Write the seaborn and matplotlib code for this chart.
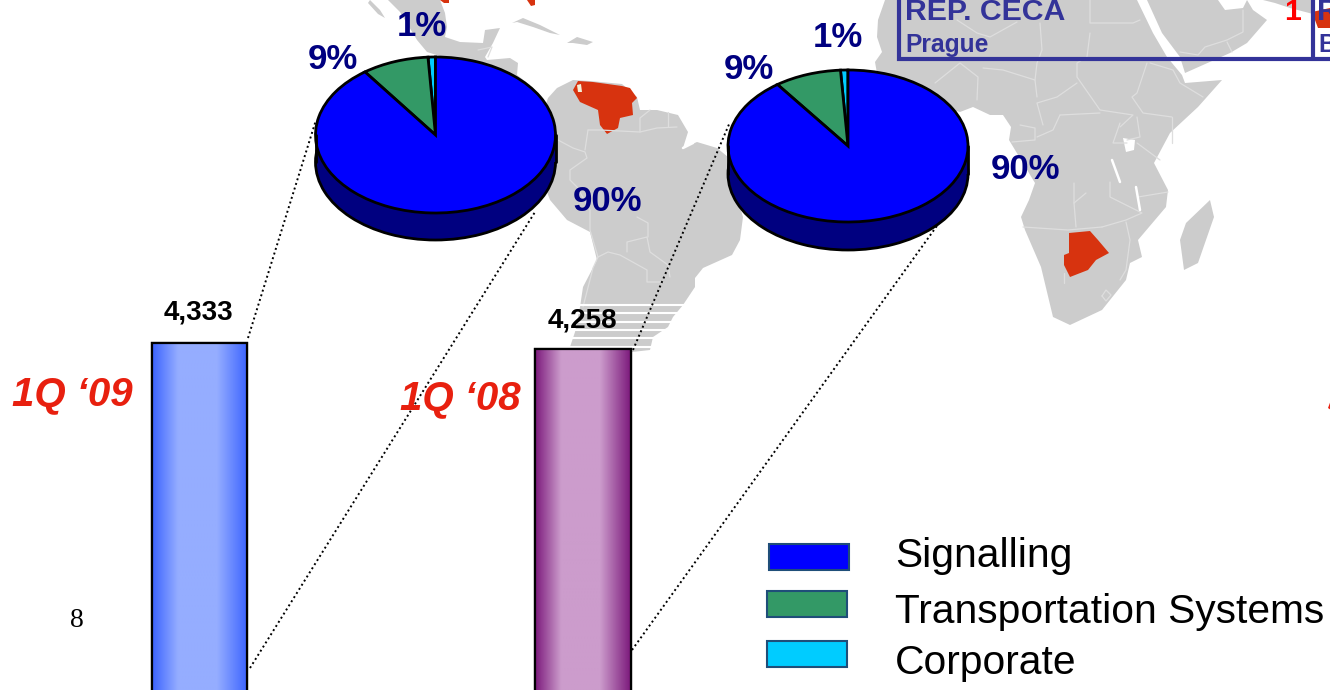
import numpy as np
import pandas as pd
import seaborn as sns
import matplotlib
matplotlib.use("Agg")
import matplotlib.pyplot as plt
from matplotlib.colors import LinearSegmentedColormap
from matplotlib.patches import Polygon, Rectangle

# Order book by quarter and its split by business line
quarters = ["1Q \u201809", "1Q \u201808"]
order_totals = [4333, 4258]
segments = ["Corporate", "Transportation Systems", "Signalling"]
share_1q09 = [1, 9, 90]
share_1q08 = [1, 9, 90]
legend_order = ["Signalling", "Transportation Systems", "Corporate"]

segment_colors = {"Signalling": "#0000FF", "Transportation Systems": "#339966", "Corporate": "#00CCFF"}
bar_gradients = [("#3C64FF", "#95ADFF"), ("#7C1A7C", "#CC9CCC")]

LAND = "#CCCCCC"
BORDER = "#DEDEDE"
MARKET = "#D7330F"
NAVY = "#000080"
FRAME = "#333399"
RED = "#E8200F"

# Backdrop map outlines, in canvas pixels
central_america = [(388, 0), (400, 12), (417, 40), (427, 52), (443, 57), (460, 60), (480, 100), (530, 85),
                   (517, 75), (518, 63), (510, 58), (487, 60), (485, 57), (493, 43), (500, 28), (485, 30),
                   (483, 43), (460, 42), (445, 37), (447, 27), (445, 13), (440, 0)]
baja = [(370, 0), (380, 10), (385, 18), (378, 14), (368, 3)]
south_america = [(548, 98), (557, 88), (573, 80), (590, 81), (622, 84), (637, 97), (640, 110), (657, 110),
                 (678, 115), (688, 132), (683, 148), (697, 142), (717, 148), (728, 157), (732, 180),
                 (743, 217), (740, 240), (732, 255), (703, 268), (695, 278), (695, 287), (683, 305),
                 (673, 317), (668, 327), (653, 337), (650, 350), (632, 352), (570, 347), (575, 332),
                 (580, 307), (583, 287), (597, 260), (590, 232), (567, 220), (550, 200), (547, 192),
                 (530, 150)]
africa = [(885, 0), (878, 20), (877, 37), (882, 52), (875, 62), (880, 90), (960, 112), (973, 107),
          (990, 115), (1003, 115), (1011, 127), (1009, 140), (1035, 183), (1029, 200), (1021, 217),
          (1025, 230), (1041, 267), (1053, 317), (1070, 325), (1102, 310), (1126, 280), (1130, 263),
          (1142, 257), (1138, 240), (1166, 207), (1168, 190), (1154, 163), (1170, 133), (1198, 107),
          (1222, 80), (1185, 83), (1182, 75), (1167, 57), (1153, 33), (1137, 0)]
arabia = [(1147, 0), (1162, 33), (1180, 57), (1185, 73), (1230, 53), (1247, 43), (1267, 20), (1253, 10),
          (1247, 0), (1243, 8), (1225, 10), (1218, 0)]
gulf_shore = [(1263, 0), (1313, 0), (1313, 14), (1290, 8), (1275, 3)]
madagascar = [(1210, 200), (1214, 217), (1198, 263), (1184, 270), (1180, 240), (1186, 223)]
islands = [[(512, 23), (523, 18), (540, 25), (560, 35), (550, 33), (533, 27), (517, 22)],
           [(567, 43), (577, 37), (593, 42), (587, 45), (573, 43)]]
venezuela = [(573, 90), (578, 81), (593, 82), (622, 86), (630, 88), (637, 98), (632, 103), (633, 115),
             (620, 118), (618, 128), (607, 134), (600, 125), (598, 110), (580, 102)]
maracaibo = [(577, 85), (581, 84), (582, 92), (578, 92)]
botswana = [(1069, 233), (1090, 231), (1098, 240), (1109, 253), (1096, 260), (1088, 270), (1070, 277),
            (1064, 265), (1064, 255), (1069, 253)]
red_fragments = [[(440, 0), (449, 0), (449, 3), (444, 3)], [(527, 0), (535, 0), (535, 5), (531, 6)],
                 [(1312, 12), (1330, 8), (1330, 28), (1318, 28)]]
lake_victoria = [(1123, 138), (1135, 140), (1134, 150), (1126, 152)]
border_lines = [
    [(558, 140), (573, 148), (585, 152), (587, 158), (570, 170), (570, 180), (577, 187), (590, 210),
     (590, 230), (598, 257), (593, 268), (583, 307)],
    [(598, 257), (608, 252), (620, 255), (647, 270), (647, 282), (663, 282)],
    [(627, 252), (627, 242), (647, 237), (650, 252), (668, 265), (670, 277)],
    [(637, 217), (648, 223), (648, 237)],
    [(588, 130), (600, 130), (640, 132), (657, 128), (677, 127)],
    [(588, 130), (585, 150)], [(640, 132), (640, 118), (650, 110)], [(668, 112), (668, 127)],
    [(957, 20), (977, 33), (990, 37), (1017, 22)],
    [(1040, 23), (1042, 50), (1037, 63), (1035, 80)],
    [(1090, 0), (1090, 23), (1133, 23), (1140, 20)],
    [(1090, 33), (1087, 57), (1077, 63), (1077, 77), (1100, 110), (1133, 115), (1120, 127)],
    [(1077, 83), (1057, 97), (1037, 103), (1043, 125)],
    [(1147, 63), (1137, 93), (1132, 97), (1143, 113), (1172, 117)],
    [(1150, 63), (1173, 70), (1180, 83), (1203, 97)],
    [(983, 68), (1003, 70), (1035, 80), (1037, 97)],
    [(935, 83), (960, 63), (978, 77), (977, 100)],
    [(1060, 115), (1100, 113)], [(1060, 115), (1053, 130), (1037, 137)],
    [(1172, 117), (1172, 143)], [(1120, 123), (1113, 143), (1127, 143)],
    [(1137, 117), (1140, 137), (1127, 140)], [(1137, 143), (1160, 160)],
    [(1020, 125), (1035, 128), (1035, 140), (1012, 142)],
    [(1074, 183), (1074, 203), (1076, 227)], [(1086, 193), (1074, 203)],
    [(1023, 227), (1068, 230), (1102, 227)],
    [(1110, 182), (1110, 197), (1142, 213), (1126, 220), (1102, 227)],
    [(1126, 222), (1130, 240), (1126, 270), (1120, 280)],
    [(1168, 192), (1138, 197)], [(1064, 273), (1064, 283)],
    [(1102, 296), (1106, 290), (1111, 295), (1106, 301), (1102, 296)],
    [(1180, 52), (1198, 55), (1205, 47), (1227, 40), (1243, 32), (1243, 10)],
    [(1227, 42), (1232, 52)], [(478, 50), (492, 47), (488, 57)],
]
water_lines = [[(1112, 160), (1120, 182)], [(1136, 187), (1140, 210)], [(683, 148), (693, 143)]]
stripe_rows = [305, 313, 322, 330, 338, 347]

fig_w, fig_h = 1330, 690
sns.set_theme(style="white")
plt.rcParams["font.family"] = ["Liberation Sans", "DejaVu Sans"]

fig = plt.figure(figsize=(fig_w / 100, fig_h / 100), dpi=100)
fig.patch.set_facecolor("white")


def pixel_axes(zorder):
    ax = fig.add_axes([0, 0, 1, 1], zorder=zorder)
    ax.set_xlim(0, fig_w)
    ax.set_ylim(fig_h, 0)
    ax.axis("off")
    ax.patch.set_alpha(0)
    return ax


# Map layer
map_ax = pixel_axes(0)
for outline in [central_america, baja, south_america, africa, arabia, gulf_shore, madagascar, *islands]:
    map_ax.add_patch(Polygon(outline, closed=True, fc=LAND, ec="none"))
for line in border_lines:
    xs, ys = zip(*line)
    map_ax.plot(xs, ys, color=BORDER, lw=0.9)
for line in water_lines:
    xs, ys = zip(*line)
    map_ax.plot(xs, ys, color="white", lw=1.8)
map_ax.add_patch(Polygon(lake_victoria, closed=True, fc="white", ec="none"))
for row in stripe_rows:
    map_ax.plot([565, 695], [row, row], color="white", lw=1.5)
for outline in [venezuela, botswana, *red_fragments]:
    map_ax.add_patch(Polygon(outline, closed=True, fc=MARKET, ec="none"))
map_ax.add_patch(Polygon(maracaibo, closed=True, fc="#F4F0D8", ec="none"))

# Connector lines running from the bars up to their pies
link_ax = pixel_axes(1)
for (x0, y0), (x1, y1) in [((248, 338), (316, 120)), ((250, 668), (535, 212)),
                           ((633, 350), (730, 122)), ((632, 650), (939, 223))]:
    link_ax.plot([x0, x1], [y0, y1], color="black", lw=1.4, ls=(0, (1, 1.5)))

# Order totals: value axis is scaled so that the bars run off the bottom of the canvas
bar_ax = fig.add_axes([0, 0, 1, 1], zorder=2)
bars = pd.DataFrame({"quarter": quarters, "orders": order_totals})
sns.barplot(data=bars, x="quarter", y="orders", ax=bar_ax, width=0.248, color="#95ADFF",
            edgecolor="black", linewidth=1.6)
step = 383.5
px_per_unit = 6.5 / 75
baseline = 343 + order_totals[0] * px_per_unit
x_range = (-199.5 / step, (fig_w - 199.5) / step)
y_range = ((baseline - fig_h) / px_per_unit, baseline / px_per_unit)
sweep = [0, 0.27, 0.68, 1.0]
for patch, (edge, mid), total in zip(list(bar_ax.patches), bar_gradients, order_totals):
    cmap = LinearSegmentedColormap.from_list("shade", list(zip(sweep, [edge, mid, mid, edge])))
    x, w = patch.get_x(), patch.get_width()
    shade = bar_ax.imshow(np.linspace(0, 1, 128)[None, :], cmap=cmap, aspect="auto",
                          extent=(x, x + w, 0, total), zorder=patch.get_zorder() + 0.1)
    shade.set_clip_path(patch)
    bar_ax.add_patch(Rectangle((x, 0), w, total, fc="none", ec="black", lw=1.6,
                               zorder=patch.get_zorder() + 0.2))
bar_ax.set_xlim(*x_range)
bar_ax.set_ylim(*y_range)
bar_ax.axis("off")
bar_ax.patch.set_alpha(0)


def draw_disc(shares, cx, cy, rx, ry, depth):
    """Tilted pie: a dark rim under a flattened disc, placed by pixel centre and radii."""
    ax = fig.add_axes([(cx - rx) / fig_w, 1 - (cy + ry) / fig_h, 2 * rx / fig_w, 2 * ry / fig_h], zorder=3)
    drop = depth / ry
    rim = {"edgecolor": "black", "linewidth": 2, "clip_on": False}
    ax.pie([1], colors=[NAVY], center=(0, -drop), radius=1, wedgeprops=rim, normalize=True)
    ax.add_patch(Rectangle((-1, -drop), 2, drop, fc=NAVY, ec="none", clip_on=False))
    ax.plot([-1, -1], [-drop, 0], color="black", lw=2, clip_on=False)
    ax.plot([1, 1], [-drop, 0], color="black", lw=2, clip_on=False)
    ax.pie(shares, colors=[segment_colors[s] for s in segments], startangle=90, radius=1,
           wedgeprops=rim, normalize=True)
    ax.set_aspect("auto")
    ax.set_xlim(-1, 1)
    ax.set_ylim(-1, 1)
    ax.axis("off")


draw_disc(share_1q09, 435.5, 135, 120, 78, 27)
draw_disc(share_1q08, 848, 146, 120, 76, 28)

# Text and key on top of everything
top = pixel_axes(4)
for share, (x, y) in zip(share_1q09, [(422, 36), (333, 69), (607, 211)]):
    top.text(x, y, f"{share}%", color=NAVY, fontsize=25, fontweight="bold", ha="center", va="baseline")
for share, (x, y) in zip(share_1q08, [(838, 47), (749, 79), (1025, 179)]):
    top.text(x, y, f"{share}%", color=NAVY, fontsize=25, fontweight="bold", ha="center", va="baseline")

for total, (x, y) in zip(order_totals, [(198.5, 320), (582.5, 328)]):
    top.text(x, y, f"{total:,}", color="black", fontsize=20, fontweight="bold", ha="center", va="baseline")
for label, (x, y) in zip(quarters, [(72, 405), (460, 409)]):
    top.text(x, y, label, color=RED, fontsize=29, fontweight="bold", fontstyle="italic",
             ha="center", va="baseline")

top.text(77, 627, "8", color="black", fontsize=20, family="Liberation Serif", ha="center", va="baseline")

# Table frame cut off by the top edge of the slide
top.plot([899, 899, 1330], [0, 59, 59], color=FRAME, lw=3, solid_joinstyle="miter")
top.plot([1313, 1313], [0, 59], color=FRAME, lw=3)
top.text(905, 20, "REP. CECA", color=FRAME, fontsize=21.8, fontweight="bold", va="baseline")
top.text(905, 52, "Prague", color=FRAME, fontsize=17.7, fontweight="bold", va="baseline")
top.text(1318, 52, "B", color=FRAME, fontsize=17.7, fontweight="bold", va="baseline", clip_on=True)
top.text(1284, 20, "1", color="#FF0000", fontsize=21.8, fontweight="bold", va="baseline")
top.text(1317, 20, "R", color=FRAME, fontsize=21.8, fontweight="bold", va="baseline", clip_on=True)
top.add_patch(Polygon([(1328, 408), (1331, 400), (1331, 410)], closed=True, fc=RED, ec="none"))

# Key
for name, (x, y), text_y in zip(legend_order, [(769, 544), (767, 591), (767, 641)], [567, 623, 674]):
    top.add_patch(Rectangle((x, y), 80, 26, fc=segment_colors[name], ec="#1F4E79", lw=1.5))
    top.text(895, text_y, name, color="black", fontsize=29.3, va="baseline")

fig.savefig("out.png", dpi=100)
